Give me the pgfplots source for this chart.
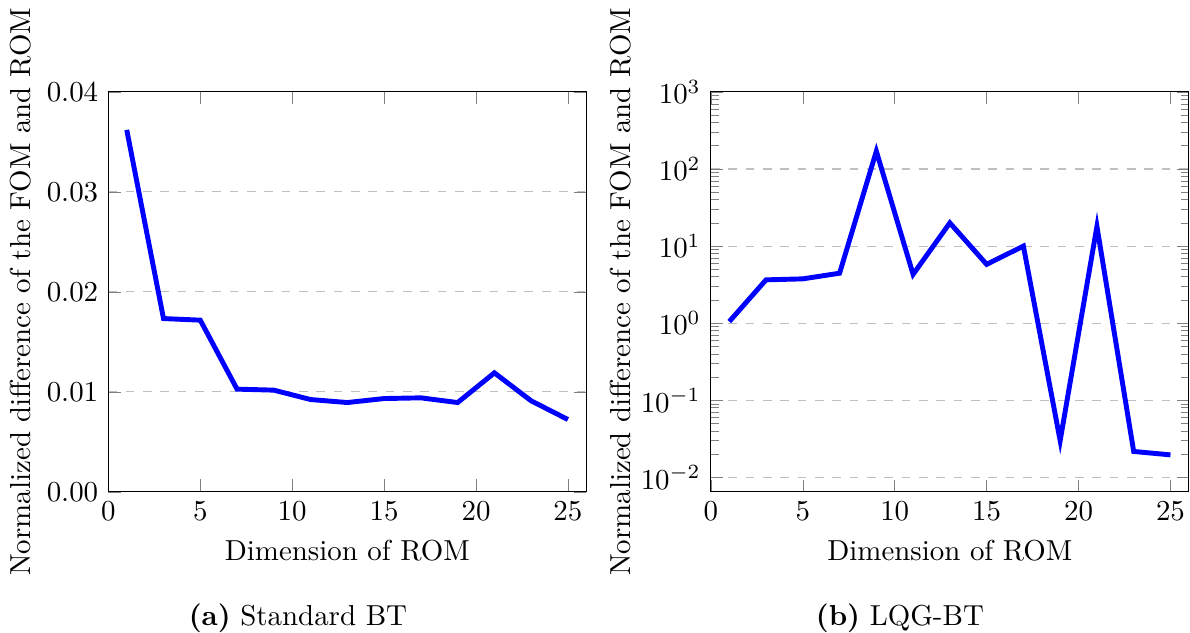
\documentclass[border=0pt]{standalone}
\usepackage{pgfplots}
\pgfplotsset{compat=1.18}
\begin{document}
\begin{tikzpicture}
\path[use as bounding box] (0pt,0pt) rectangle (411.8pt,-219pt);
\pgfplotsset{
  every axis/.append style={
    scale only axis,
    width=165.4pt, height=138.4pt,
    xmin=0, xmax=26,
    xtick={0,5,10,15,20,25},
    xlabel={Dimension of ROM},
    ylabel={Normalized difference of the FOM and ROM},
    ymajorgrids,
    major grid style={dashed, black!25},
  },
}
\begin{axis}[
  at={(37.5pt,-31.8pt)}, anchor=north west,
  ymin=0, ymax=0.04,
  ytick={0,0.01,0.02,0.03,0.04},
  scaled y ticks=false,
  ylabel shift=-1.4pt,
  yticklabel style={/pgf/number format/.cd, fixed, fixed zerofill, precision=2},
]
\addplot[blue, line width=1.7pt] coordinates {
(1,0.0362) (3,0.01733) (5,0.01717) (7,0.01027) (9,0.01017) (11,0.00923)
(13,0.00893) (15,0.00933) (17,0.0094) (19,0.00893) (21,0.0119) (23,0.0091) (25,0.00723)
};
\end{axis}
\begin{axis}[
  at={(246pt,-31.8pt)}, anchor=north west,
  ymode=log,
  ymin=6.5e-3, ymax=1e3,
  ytick={1e-2,1e-1,1,10,100,1000},
  ylabel shift=-3.5pt,
]
\addplot[blue, line width=1.7pt] coordinates {
(1,1.05) (3,3.65) (5,3.76) (7,4.45) (9,170) (11,4.3)
(13,20) (15,5.8) (17,10.0) (19,0.03) (21,18) (23,0.0217) (25,0.0196)
};
\end{axis}
\node[anchor=base] at (103.1pt,-216.6pt) {\textbf{(a)} Standard BT};
\node[anchor=base] at (311.4pt,-216.6pt) {\textbf{(b)} LQG-BT};
\end{tikzpicture}
\end{document}
